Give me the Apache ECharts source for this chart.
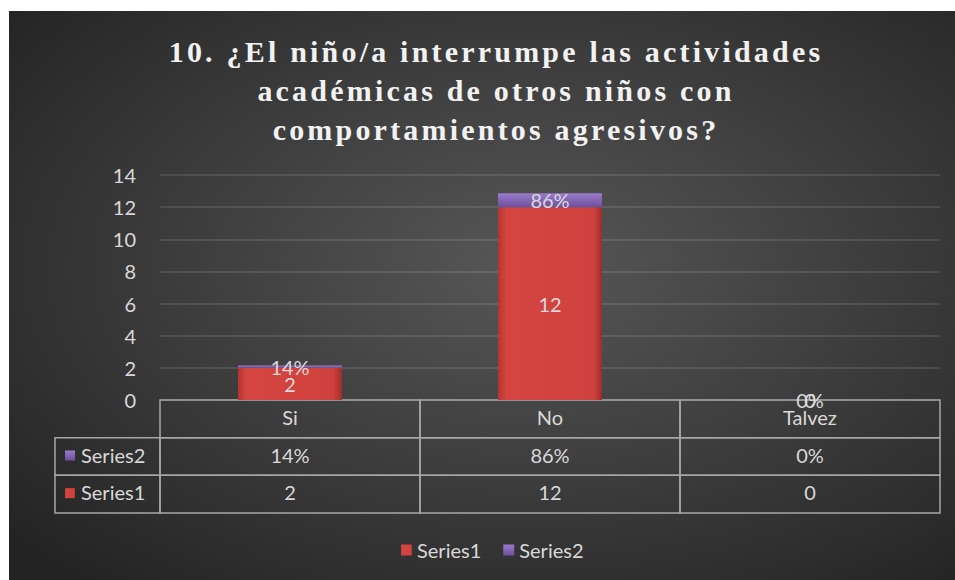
<!DOCTYPE html>
<html>
<head>
<meta charset="utf-8">
<script src="https://cdn.jsdelivr.net/npm/echarts@6/dist/echarts.min.js"></script>
<style>
  html, body { margin: 0; padding: 0; background: #ffffff; }
  #chart { position: absolute; left: 9px; top: 11px; width: 946px; height: 569px; }
  /* the title in the original is set with wide letter spacing */
  #chart text[style*="Liberation Serif"] { letter-spacing: 3.2px; }
</style>
</head>
<body>
<div id="chart"></div>
<script>
const titleText = "10. ¿El niño/a interrumpe las actividades\nacadémicas de otros niños con\ncomportamientos agresivos?";
const categories = ["Si", "No", "Talvez"];
const seriesNames = ["Series1", "Series2"];
const series1 = [2, 12, 0];
const series2 = [0.14, 0.86, 0];
const yTicks = [0, 2, 4, 6, 8, 10, 12, 14];

const textColor = "#d9d9d9";
const lineColor = "#a6a6a6";
const font = "Lato, 'Open Sans', sans-serif";
const fontSize = 20;

const redFill = new echarts.graphic.LinearGradient(0, 0, 1, 0, [
  { offset: 0, color: "#b33431" },
  { offset: 0.08, color: "#d54541" },
  { offset: 0.92, color: "#cf413e" },
  { offset: 1, color: "#9e2c2a" },
]);
const purpleFill = new echarts.graphic.LinearGradient(0, 0, 0, 1, [
  { offset: 0, color: "#9b7bcb" },
  { offset: 1, color: "#6d4f9c" },
]);
const keyFills = [redFill, purpleFill];

function fmtPct(v) {
  return Math.round(v * 100) + "%";
}

// table cells: x range on table axis, row range (0 = Series1, 1 = Series2, 2 = header)
const keyMin = -105 / 260;
const cells = [];
categories.forEach((c, i) => cells.push({ x0: i, x1: i + 1, row: 2, text: c }));
cells.push({ x0: keyMin, x1: 0, row: 1, text: seriesNames[1], key: 1 });
series2.forEach((v, i) => cells.push({ x0: i, x1: i + 1, row: 1, text: fmtPct(v) }));
cells.push({ x0: keyMin, x1: 0, row: 0, text: seriesNames[0], key: 0 });
series1.forEach((v, i) => cells.push({ x0: i, x1: i + 1, row: 0, text: String(v) }));

const chart = echarts.init(document.getElementById("chart"), null, { renderer: "svg" });

chart.setOption({
  animation: false,
  backgroundColor: new echarts.graphic.RadialGradient(0.55, 0.45, 0.72, [
    { offset: 0, color: "#575757" },
    { offset: 1, color: "#242424" },
  ]),
  title: {
    text: titleText,
    left: 482,
    top: 16,
    textAlign: "center",
    textStyle: {
      fontFamily: "'Liberation Serif'",
      fontWeight: "bold",
      fontSize: 30,
      lineHeight: 39,
      color: "#f2f2f2",
    },
  },
  legend: {
    data: seriesNames,
    left: 387,
    top: 524,
    itemWidth: 11,
    itemHeight: 11,
    itemGap: 22,
    icon: "rect",
    textStyle: { color: textColor, fontSize: fontSize, fontFamily: font },
  },
  grid: [
    { left: 151, right: 15, top: 164, bottom: 180 },
    { left: 46, right: 15, top: 389, bottom: 67 },
  ],
  xAxis: [
    {
      type: "category",
      gridIndex: 0,
      data: categories,
      axisLine: { show: false },
      axisTick: { show: false },
      axisLabel: { show: false },
    },
    {
      type: "value",
      gridIndex: 1,
      min: keyMin,
      max: 3,
      show: false,
    },
  ],
  yAxis: [
    {
      type: "value",
      gridIndex: 0,
      min: 0,
      max: 14,
      interval: 2,
      axisLine: { show: false },
      axisTick: { show: false },
      axisLabel: {
        color: textColor,
        fontSize: fontSize,
        fontFamily: font,
        margin: 24,
        formatter: (v) => (yTicks.includes(v) ? String(v) : ""),
      },
      splitLine: { lineStyle: { color: "rgba(255,255,255,0.14)", width: 1.5 } },
    },
    {
      type: "value",
      gridIndex: 1,
      min: 0,
      max: 3,
      show: false,
    },
  ],
  series: [
    {
      name: seriesNames[0],
      type: "bar",
      stack: "total",
      barWidth: "40%",
      data: series1,
      itemStyle: { color: redFill },
      label: {
        show: true,
        position: "inside",
        color: textColor,
        fontSize: fontSize,
        fontFamily: font,
      },
    },
    {
      name: seriesNames[1],
      type: "bar",
      stack: "total",
      barWidth: "40%",
      data: series2,
      itemStyle: { color: purpleFill },
      label: {
        show: true,
        position: "inside",
        color: textColor,
        fontSize: fontSize,
        fontFamily: font,
        formatter: (p) => fmtPct(p.value),
      },
    },
    {
      type: "custom",
      xAxisIndex: 1,
      yAxisIndex: 1,
      silent: true,
      data: cells.map((c) => [c.x0, c.x1, c.row]),
      renderItem: (params, api) => {
        const c = cells[params.dataIndex];
        const tl = api.coord([c.x0, c.row + 1]);
        const br = api.coord([c.x1, c.row]);
        const w = br[0] - tl[0];
        const h = br[1] - tl[1];
        const children = [
          {
            type: "rect",
            shape: { x: tl[0], y: tl[1], width: w, height: h },
            style: { fill: "none", stroke: lineColor, lineWidth: 1.5 },
          },
        ];
        if (c.key !== undefined) {
          children.push({
            type: "rect",
            shape: { x: tl[0] + 10, y: tl[1] + h / 2 - 6, width: 10, height: 10 },
            style: { fill: keyFills[c.key] },
          });
          children.push({
            type: "text",
            style: {
              text: c.text,
              x: tl[0] + 26,
              y: tl[1] + h / 2 - 2,
              align: "left",
              verticalAlign: "middle",
              fill: textColor,
              fontSize: fontSize,
              fontFamily: font,
            },
          });
        } else {
          children.push({
            type: "text",
            style: {
              text: c.text,
              x: tl[0] + w / 2,
              y: tl[1] + h / 2 - 2,
              align: "center",
              verticalAlign: "middle",
              fill: textColor,
              fontSize: fontSize,
              fontFamily: font,
            },
          });
        }
        return { type: "group", children };
      },
    },
  ],
});
</script>
</body>
</html>
